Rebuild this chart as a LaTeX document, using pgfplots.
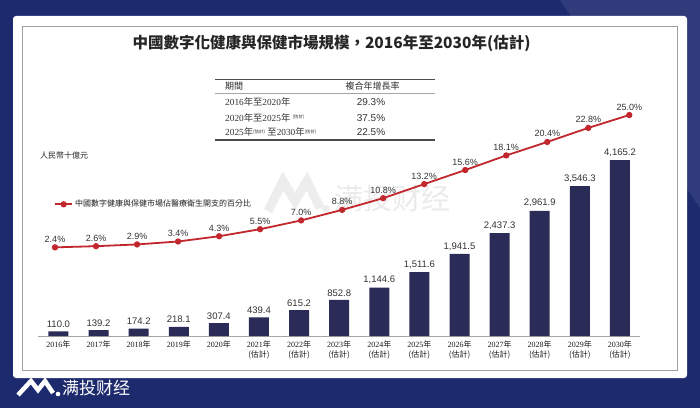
\documentclass[border=0pt]{standalone}
\usepackage{fontspec}
\setmainfont{Liberation Serif}
\setsansfont{Liberation Sans}
\newfontfamily\cjk{Noto Sans CJK TC}
\newfontfamily\cjksc{Noto Sans CJK SC}
\usepackage{pgfplots}
\pgfplotsset{compat=1.18}
\definecolor{bgnavy}{HTML}{1D2A6E}
\definecolor{barnavy}{HTML}{2A2B57}
\definecolor{linered}{HTML}{C1272D}
\definecolor{txt}{HTML}{333333}
\newcommand\zh[1]{{\cjk #1}}
\newcommand\est{\raisebox{2.5pt}{\fontsize{4.5}{5}\selectfont\cjk (估計)}}

\begin{document}
\begin{tikzpicture}[x=1pt,y=1pt]
\useasboundingbox (0,0) rectangle (700,408);
% background and panel
\fill[bgnavy] (0,0) rectangle (700,408);
\fill[white!8!bgnavy] (560,408) -- (700,408) -- (700,200) -- cycle;
\fill[white, rounded corners=3pt] (13,30) rectangle (687,392);
\draw[gray!75, line width=1pt] (22,38) rectangle (677,381);
\coordinate (barorigin) at (38,72);
\coordinate (lineorigin) at (38,146.6);

% watermark
\draw[gray!14, line width=9pt, line join=miter] (268,197) -- (283,227) -- (295,207) -- (307,227) -- (320,200);
\fill[gray!14] (326,199) circle (4);
\node[text=gray!16, font=\cjksc\fontsize{29}{30}\selectfont] at (392.5,209) {满投财经};

% bottom logo
\draw[white, line width=4.5pt, line join=miter] (18,13) -- (31,27) -- (38,18) -- (45,27) -- (53,15);
\fill[white] (58,14) circle (2.3);
\node[anchor=west, text=white, inner sep=0pt, font=\cjksc\fontsize{17}{18}\selectfont] at (62,20) {满投财经};

% title
\node[text=black!85, font=\cjk\bfseries\fontsize{15.5}{17}\selectfont] at (331.5,365) {中國數字化健康與保健市場規模，2016年至2030年(估計)};

% table
\draw[gray!60!black, line width=1.1pt] (215,328.7) -- (435,328.7);
\draw[gray!70, line width=0.5pt] (215,314.7) -- (435,314.7);
\draw[gray!60!black, line width=1.1pt] (215,268) -- (435,268);
\node[anchor=west, inner sep=0pt, text=gray!35!black, font=\cjk\fontsize{9}{10}\selectfont] at (225,322.3) {期間};
\node[inner sep=0pt, text=gray!35!black, font=\cjk\fontsize{9}{10}\selectfont] at (372.5,322.3) {複合年增長率};
\begin{scope}[every node/.style={inner sep=0pt, text=txt}]
\node[anchor=west, font=\fontsize{9.3}{10}\selectfont] at (225,305.7) {2016\zh{年至}2020\zh{年}};
\node[anchor=west, font=\fontsize{9.3}{10}\selectfont] at (225,290.3) {2020\zh{年至}2025\zh{年} \est};
\node[anchor=west, font=\fontsize{9.3}{10}\selectfont] at (225,276) {2025\zh{年}\est\ \zh{至}2030\zh{年}\est};
\node[font=\sffamily\fontsize{10}{11}\selectfont] at (371,305.7) {29.3\%};
\node[font=\sffamily\fontsize{10}{11}\selectfont] at (371,290.3) {37.5\%};
\node[font=\sffamily\fontsize{10}{11}\selectfont] at (371,276) {22.5\%};
\end{scope}

% unit label
\node[anchor=west, inner sep=0pt, text=gray!30!black, font=\cjk\fontsize{8}{9}\selectfont] at (40,253) {人民幣十億元};

% bars
\begin{axis}[
    at={(barorigin)}, anchor=south west,
    scale only axis, width=602pt, height=211.25pt,
    clip=false,
    ybar, bar width=20pt,
    xmin=-0.51, xmax=14.5, ymin=0, ymax=5000,
    axis x line=bottom, axis y line=none,
    x axis line style={-, gray!70, line width=1pt},
    xtick={0,...,14}, major tick length=0pt,
    xticklabels={2016\zh{年},2017\zh{年},2018\zh{年},2019\zh{年},2020\zh{年},
        {2021\zh{年}\\\zh{(估計)}},{2022\zh{年}\\\zh{(估計)}},{2023\zh{年}\\\zh{(估計)}},
        {2024\zh{年}\\\zh{(估計)}},{2025\zh{年}\\\zh{(估計)}},{2026\zh{年}\\\zh{(估計)}},
        {2027\zh{年}\\\zh{(估計)}},{2028\zh{年}\\\zh{(估計)}},{2029\zh{年}\\\zh{(估計)}},
        {2030\zh{年}\\\zh{(估計)}}},
    xticklabel style={align=center, text=gray!20!black, font=\fontsize{8}{9.4}\selectfont, yshift=-1.5pt},
    /pgf/number format/.cd, fixed, fixed zerofill, precision=1, 1000 sep={,}, assume math mode=true,
    /pgfplots/.cd,
    nodes near coords,
    every node near coord/.append style={font=\sffamily\fontsize{9.5}{10}\selectfont, text=txt, inner sep=1pt, yshift=2.5pt},
]
\addplot[fill=barnavy, draw=none] coordinates {
    (0,110.0) (1,139.2) (2,174.2) (3,218.1) (4,307.4) (5,439.4) (6,615.2) (7,852.8)
    (8,1144.6) (9,1511.6) (10,1941.5) (11,2437.3) (12,2961.9) (13,3546.3) (14,4165.2)
};
\end{axis}

% share of health spending
\begin{axis}[
    at={(lineorigin)}, anchor=south west,
    scale only axis, width=602pt, height=175.65pt,
    clip=false, hide axis,
    xmin=-0.4144, xmax=14.261, ymin=0, ymax=30,
    nodes near coords={\pgfmathprintnumber[fixed,fixed zerofill,precision=1,assume math mode=true]{\pgfplotspointmeta}\%},
    every node near coord/.append style={font=\sffamily\fontsize{9}{10}\selectfont, text=txt, inner sep=1pt, yshift=3pt},
    legend style={at={(0.0266,0.325)}, anchor=west, draw=none, fill=none, inner sep=0pt,
        font=\cjk\fontsize{8}{9}\selectfont, text=gray!25!black},
    legend cell align=left,
]
\addplot[linered, line width=1.8pt, mark=*, mark size=2.2pt] coordinates {
    (0,2.4) (1,2.6) (2,2.9) (3,3.4) (4,4.3) (5,5.5) (6,7.0) (7,8.8)
    (8,10.8) (9,13.2) (10,15.6) (11,18.1) (12,20.4) (13,22.8) (14,25.0)
};
\addlegendentry{中國數字健康與保健市場佔醫療衛生開支的百分比}
\end{axis}
\end{tikzpicture}
\end{document}
